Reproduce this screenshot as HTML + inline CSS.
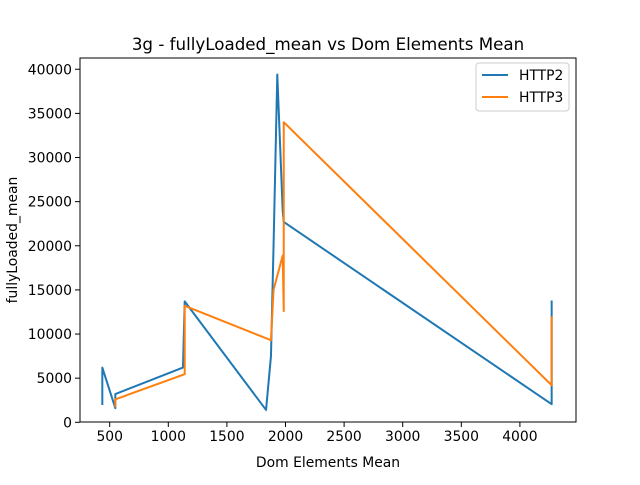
<!DOCTYPE html>
<html><head><meta charset="utf-8"><style>
body{margin:0;background:#fff}
text{font-family:"DejaVu Sans","Liberation Sans",sans-serif;fill:#000}
</style></head><body>
<svg id="chart" width="640" height="480" xmlns="http://www.w3.org/2000/svg">
<rect width="640" height="480" fill="#fff"/>
<text x="328" y="50" font-size="16.7" text-anchor="middle">3g - fullyLoaded_mean vs Dom Elements Mean</text>
<g id="plot"></g>
<rect x="80" y="58" width="496" height="364" fill="none" stroke="#000" stroke-width="1"/>
<text x="328" y="467" font-size="13.9" text-anchor="middle">Dom Elements Mean</text>
<text transform="translate(17,240) rotate(-90)" font-size="13.9" text-anchor="middle">fullyLoaded_mean</text>
<g>
<rect x="476" y="63" width="93" height="48" fill="#fff" stroke="#ccc" rx="3"/>
<line x1="482" y1="75" x2="508" y2="75" stroke="#1f77b4" stroke-width="2"/>
<text x="519" y="80" font-size="13.9">HTTP2</text>
<line x1="482" y1="97" x2="508" y2="97" stroke="#ff7f0e" stroke-width="2"/>
<text x="519" y="102" font-size="13.9">HTTP3</text>
</g>
</svg>
<script>
const xTicks=[500,1000,1500,2000,2500,3000,3500,4000];
const yTicks=[0,5000,10000,15000,20000,25000,30000,35000,40000];
const http2X=[437,437,548,548,1125,1140,1834,1876,1898,1930,1976,1985,4271,4271];
const http2Y=[1960,6200,1600,3200,6200,13700,1400,7500,20000,39400,24000,22700,2050,13800];
const http3X=[548,548,1140,1140,1876,1898,1976,1985,1985,4271,4271];
const http3Y=[1700,2600,5450,13200,9300,15000,18900,12600,34000,4200,12000];
const sx=v=>109.7+(v-500)*0.1172;
const sy=v=>422.3-v*0.008826;
const NS="http://www.w3.org/2000/svg";
const g=document.getElementById('plot');
function mk(t,a){const e=document.createElementNS(NS,t);for(const k in a)e.setAttribute(k,a[k]);g.appendChild(e);return e;}
xTicks.forEach(v=>{
  const l=mk('line',{x1:sx(v),x2:sx(v),y1:422,y2:427,stroke:'#000'});
  
  
  const t=mk('text',{x:sx(v),y:441,'font-size':13.9,'text-anchor':'middle'});t.textContent=v;
  
  
});
yTicks.forEach(v=>{
  const l=mk('line',{x1:75,x2:80,y1:sy(v),y2:sy(v),stroke:'#000'});
  
  
  const t=mk('text',{x:72,y:sy(v)+5,'font-size':13.9,'text-anchor':'end'});t.textContent=v;
  
  
});
function series(xs,ys,c,name){
  const p=mk('polyline',{points:xs.map((x,i)=>sx(x)+','+sy(ys[i])).join(' '),fill:'none',stroke:c,'stroke-width':2,'stroke-linejoin':'round'});
  
  
}
series(http2X,http2Y,'#1f77b4','http2-line');
series(http3X,http3Y,'#ff7f0e','http3-line');
</script>
</body></html>
